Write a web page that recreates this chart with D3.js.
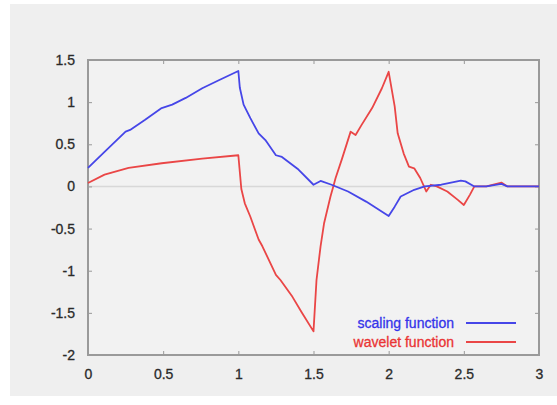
<!DOCTYPE html>
<html>
<head>
<meta charset="utf-8">
<script src="https://cdn.jsdelivr.net/npm/d3@7"></script>
<style>
  body { margin: 0; background: #ffffff; }
  svg text { font-family: "Liberation Sans", Arial, sans-serif; }
</style>
</head>
<body>
<svg id="chart" width="557" height="405"></svg>
<script>
// Values
const scalingX = [0, 0.11, 0.25, 0.28, 0.38, 0.49, 0.56, 0.65, 0.76, 0.87, 1.0,
  1.01, 1.035, 1.08, 1.135, 1.18, 1.25, 1.29, 1.40, 1.5, 1.547, 1.62, 1.73, 1.85, 2.0,
  2.04, 2.08, 2.17, 2.24, 2.35, 2.48, 2.51, 2.57, 2.65, 2.75, 2.79, 3.0];
const scalingY = [0.22, 0.41, 0.65, 0.67, 0.79, 0.93, 0.97, 1.05, 1.165, 1.26, 1.37,
  1.17, 0.97, 0.81, 0.63, 0.55, 0.37, 0.35, 0.2, 0.02, 0.065, 0.02, -0.06, -0.18, -0.35,
  -0.24, -0.12, -0.04, 0.0, 0.02, 0.07, 0.06, 0.0, 0.0, 0.03, 0.0, 0.0];

const waveletX = [0, 0.11, 0.27, 0.49, 0.76, 1.0,
  1.02, 1.043, 1.08, 1.135, 1.16, 1.25, 1.28, 1.36, 1.42, 1.5,
  1.52, 1.547, 1.57, 1.613, 1.635, 1.647, 1.69, 1.747, 1.78, 1.82, 1.89, 1.955, 2.0,
  2.04, 2.06, 2.10, 2.135, 2.17, 2.21, 2.25, 2.28, 2.32, 2.39, 2.46, 2.50, 2.54, 2.57,
  2.65, 2.75, 2.79, 3.0];
const waveletY = [0.04, 0.14, 0.22, 0.275, 0.33, 0.37,
  -0.03, -0.2, -0.36, -0.63, -0.71, -1.05, -1.11, -1.31, -1.49, -1.72,
  -1.11, -0.71, -0.44, -0.12, 0.02, 0.1, 0.33, 0.65, 0.61, 0.73, 0.93, 1.165, 1.36,
  0.95, 0.63, 0.39, 0.235, 0.215, 0.1, -0.06, 0.02, 0.0, -0.06, -0.16, -0.22, -0.1, 0.0,
  0.0, 0.045, 0.0, 0.0];

const xTicks = [0, 0.5, 1, 1.5, 2, 2.5, 3];
const yTicks = [1.5, 1, 0.5, 0, -0.5, -1, -1.5, -2];
const seriesNames = ["scaling function", "wavelet function"];
const seriesColors = ["#4646e8", "#ea4646"];
const textColors = ["#3434ea", "#ea3434"];

const svg = d3.select("#chart");

// Gray photo background
svg.append("rect")
  .attr("x", 10).attr("y", 4)
  .attr("width", 547).attr("height", 392)
  .attr("fill", "#efefef");

const margin = { top: 60, right: 18, bottom: 50, left: 88 },
  width = 557 - margin.left - margin.right,
  height = 405 - margin.top - margin.bottom;

const x = d3.scaleLinear().domain([0, 3]).range([0, width]);
const y = d3.scaleLinear().domain([-2, 1.5]).range([height, 0]);

const g = svg.append("g")
  .attr("transform", `translate(${margin.left}, ${margin.top})`);

g.append("rect")
  .attr("width", width).attr("height", height)
  .attr("fill", "#f2f2f2");

// Zero line
g.append("line")
  .attr("x1", 0).attr("x2", width)
  .attr("y1", y(0)).attr("y2", y(0))
  .attr("stroke", "#d8d8d8").attr("stroke-width", 1.5);

// plain hyphen minus, like the original
const plain = d => String(d);

// Axes with inward ticks on all four sides
const styleAxis = sel => {
  sel.select(".domain").remove();
  sel.selectAll(".tick line").attr("stroke", "#999");
  sel.selectAll(".tick text")
    .attr("fill", "#2a2a2a")
    .attr("stroke", "#2a2a2a")
    .attr("stroke-width", 0.3)
    .style("font-size", "14px");
};

g.append("g")
  .attr("transform", `translate(0, ${height})`)
  .call(d3.axisBottom(x).tickValues(xTicks).tickFormat(plain).tickSizeInner(-4).tickPadding(14))
  .call(styleAxis);

g.append("g")
  .call(d3.axisTop(x).tickValues(xTicks).tickFormat("").tickSizeInner(-4))
  .call(styleAxis);

g.append("g")
  .call(d3.axisLeft(y).tickValues(yTicks).tickFormat(plain).tickSizeInner(-4).tickPadding(13))
  .call(styleAxis);

g.append("g")
  .attr("transform", `translate(${width}, 0)`)
  .call(d3.axisRight(y).tickValues(yTicks).tickFormat("").tickSizeInner(-4))
  .call(styleAxis);

// Frame
g.append("rect")
  .attr("width", width).attr("height", height)
  .attr("fill", "none")
  .attr("stroke", "#9a9a9a").attr("stroke-width", 2);

// Curves
const line = d3.line()
  .x(d => x(d[0]))
  .y(d => y(d[1]));

const series = [
  d3.zip(scalingX, scalingY),
  d3.zip(waveletX, waveletY)
];

// draw wavelet first so the scaling function sits on top at the crossings
[1, 0].forEach(i => {
  g.append("path")
    .datum(series[i])
    .attr("d", line)
    .attr("fill", "none")
    .attr("stroke", seriesColors[i])
    .attr("stroke-width", 1.8)
    .attr("stroke-linejoin", "round");
});

// Legend
const legend = g.append("g")
  .attr("transform", `translate(${width - 73}, ${height - 32})`);

seriesNames.forEach((name, i) => {
  legend.append("text")
    .attr("x", -12)
    .attr("y", i * 19 + 5)
    .attr("text-anchor", "end")
    .attr("fill", textColors[i])
    .attr("stroke", textColors[i])
    .attr("stroke-width", 0.3)
    .style("font-size", "14px")
    .text(name);
  legend.append("line")
    .attr("x1", 0).attr("x2", 50)
    .attr("y1", i * 19).attr("y2", i * 19)
    .attr("stroke", seriesColors[i])
    .attr("stroke-width", 1.8);
});
</script>
</body>
</html>
